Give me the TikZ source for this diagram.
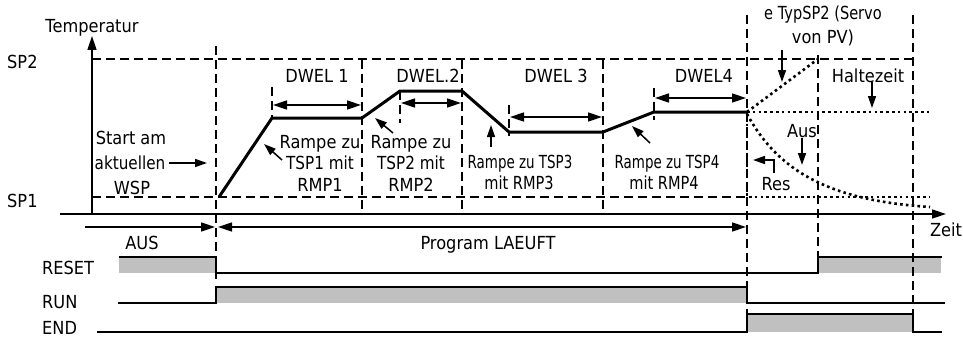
\documentclass[tikz,border=0pt]{standalone}
\usepackage{graphicx}
\usepackage{fontspec}
\setmainfont{DejaVu Sans}[FakeStretch=0.9]
\usetikzlibrary{arrows.meta}
\definecolor{siggray}{RGB}{192,192,192}
\newcommand{\narrowtxt}[2]{\scalebox{#1}[1]{#2}}
\tikzset{
  lbl/.style={inner sep=0pt, font=\fontsize{18}{21}\selectfont, anchor=base},
  lblw/.style={lbl, anchor=base west},
  dashln/.style={line width=1.6pt, dash pattern=on 9pt off 5pt},
  dotln/.style={line width=2.6pt, dash pattern=on 2.6pt off 3.2pt},
  prof/.style={line width=3pt, line join=miter},
  sig/.style={line width=2.6pt},
  ptr/.style={line width=1.5pt, -{Triangle[length=12pt,width=8pt]}},
  bigptr/.style={line width=1.5pt, -{Triangle[length=14pt,width=9pt]}},
  dbl/.style={line width=1.5pt, {Triangle[length=14pt,width=9pt]}-{Triangle[length=14pt,width=9pt]}},
  axisln/.style={line width=1.5pt, -{Triangle[length=14pt,width=9pt]}},
}
\begin{document}
\begin{tikzpicture}[x=1pt,y=-1pt]
\useasboundingbox (0,0) rectangle (963,337);
% signal fills
\fill[siggray] (119,257) rectangle (216,273);
\fill[siggray] (818,257) rectangle (941,273);
\fill[siggray] (216,287) rectangle (747,303);
\fill[siggray] (747,314) rectangle (913,332);
% dashed reference lines
\draw[dashln] (92,59) -- (913,59);
\draw[dashln] (92,197) -- (747,197);
\draw[dashln] (216,46) -- (216,280);
\draw[dashln] (362,60) -- (362,210);
\draw[dashln] (462,60) -- (462,210);
\draw[dashln] (603,60) -- (603,210);
\draw[dashln] (747,15) -- (747,333);
\draw[dashln] (818,55) -- (818,260);
\draw[dashln] (913,15) -- (913,325);
% dwell ticks
\draw[dashln] (272,87) -- (272,119);
\draw[dashln] (400,91) -- (400,123);
\draw[dashln] (509,105) -- (509,136);
\draw[dashln] (654,88) -- (654,120);
% axes
\coordinate (o) at (92,214);
\coordinate (ytop) at (92,36);
\coordinate (xl) at (60,214);
\coordinate (xr) at (946,214);
\draw[axisln] (o) -- (ytop);
\draw[axisln] (xl) -- (xr);
% profile
\coordinate (p0) at (219,197);
\coordinate (p1) at (272,118);
\coordinate (p2) at (362,118);
\coordinate (p3) at (400,91);
\coordinate (p4) at (462,91);
\coordinate (p5) at (509,132);
\coordinate (p6) at (603,132);
\coordinate (p7) at (654,112);
\coordinate (p8) at (747,112);
\draw[prof] (p0) -- (p1) -- (p2) -- (p3) -- (p4) -- (p5) -- (p6) -- (p7) -- (p8);
% dotted continuations
\draw[dotln] (p8) -- (818,59);
\draw[dotln] (p8) -- (932,112);
\draw[dotln] (747,114) .. controls (775,165) and (820,200) .. (930,207);
\draw[dotln] (p8) -- (747,197) -- (930,197);
% dwell arrows
\draw[dbl] (273,105) -- (361,105);
\draw[dbl] (401,103) -- (461,103);
\draw[dbl] (510,117) -- (602,117);
\draw[dbl] (655,98) -- (746,98);
% texts
\node[lbl] (temp) at (92,33) {Temperatur};
\node[lblw] (sp2) at (7,68) {SP2};
\node[lblw] (sp1) at (7,207) {SP1};
\node[lbl] (d1) at (317,82) {DWEL 1};
\node[lbl] (d2) at (428,82) {DWEL.2};
\node[lbl] (d3) at (556,82) {DWEL 3};
\node[lbl] (d4) at (704,82) {DWEL4};
\node[lbl] (st1) at (131,144) {Start am};
\node[lbl] (st2) at (130,169) {\narrowtxt{0.94}{aktuellen}};
\node[lbl] (st3) at (132,194) {WSP};
\node[lbl] (r1a) at (320,148) {Rampe zu};
\node[lbl] (r1b) at (320,169) {\narrowtxt{0.94}{TSP1 mit}};
\node[lbl] (r1c) at (320,191) {RMP1};
\node[lbl] (r2a) at (411,148) {Rampe zu};
\node[lbl] (r2b) at (411,169) {\narrowtxt{0.94}{TSP2 mit}};
\node[lbl] (r2c) at (411,191) {RMP2};
\node[lbl] (r3a) at (520,168) {\narrowtxt{0.83}{Rampe zu TSP3}};
\node[lbl] (r3b) at (519,189) {\narrowtxt{0.9}{mit RMP3}};
\node[lbl] (r4a) at (667,168) {\narrowtxt{0.83}{Rampe zu TSP4}};
\node[lbl] (r4b) at (664,189) {\narrowtxt{0.9}{mit RMP4}};
\node[lbl] (sv1) at (823,20) {\narrowtxt{0.9}{e TypSP2 (Servo}};
\node[lbl] (sv2) at (823,44) {von PV)};
\node[lbl] (halt) at (868,82) {Haltezeit};
\node[lbl] (aus2) at (802,137) {Aus};
\node[lbl] (res) at (776,190) {Res};
\node[lbl] (aus) at (142,249) {AUS};
\node[lbl] (prog) at (488,249) {Program LAEUFT};
\node[lbl] (zeit) at (946,236) {Zeit};
\node[lblw] (reset) at (42,274) {RESET};
\node[lblw] (run) at (42,308) {RUN};
\node[lblw] (endl) at (42,334) {END};
% pointer arrows
\draw[ptr] (169,163) -- (207,163);
\draw[ptr] (282,160) -- (264,144);
\draw[ptr] (393,133) -- (375,118);
\draw[ptr] (491,147) -- (491,125);
\draw[ptr] (650,143) -- (632,126);
\draw[ptr] (782,50) -- (782,82);
\draw[ptr] (872,82) -- (872,108);
\draw[ptr] (802,138) -- (802,165);
\draw[ptr] (774,173) -- (774,160) -- (753,160);
% phase arrows
\draw[bigptr] (85,227) -- (215,227);
\draw[dbl] (218,227) -- (746,227);
% signals
\draw[sig] (119,257) -- (216,257) -- (216,273) -- (818,273) -- (818,257) -- (942,257);
\draw[sig] (118,303) -- (216,303) -- (216,287) -- (747,287) -- (747,303) -- (945,303);
\draw[sig] (97,332) -- (747,332) -- (747,314) -- (913,314) -- (913,332) -- (942,332);
\end{tikzpicture}
\end{document}
